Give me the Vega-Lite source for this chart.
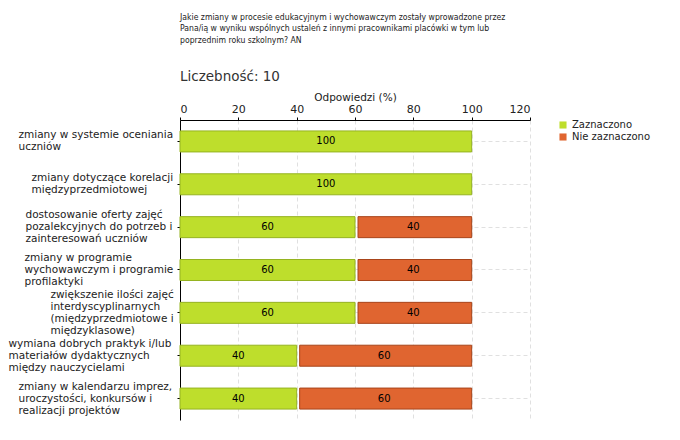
{
  "$schema": "https://vega.github.io/schema/vega-lite/v6.json",
  "width": 350,
  "height": 300,
  "autosize": {"type": "none"},
  "padding": {"left": 180, "top": 120, "right": 150, "bottom": 20},
  "background": "white",
  "config": {
    "font": "DejaVu Sans",
    "view": {"stroke": null}
  },
  "title": {
    "text": ["Jakie zmiany w procesie edukacyjnym i wychowawczym zostały wprowadzone przez", "Pana/ią w wyniku wspólnych ustaleń z innymi pracownikami placówki w tym lub", "poprzednim roku szkolnym? AN"],
    "subtitle": "Liczebność: 10",
    "anchor": "start",
    "frame": "group",
    "font": "DejaVu Sans Condensed",
    "fontSize": 8.6,
    "fontWeight": "normal",
    "color": "#222",
    "lineHeight": 11.5,
    "subtitleFont": "DejaVu Sans",
    "subtitleFontSize": 13.5,
    "subtitleColor": "#333",
    "subtitlePadding": 25,
    "offset": 9
  },
  "data": {
    "values": [
      {"kat": "zmiany w systemie oceniania|uczniów", "odp": "Zaznaczono", "v": 100},
      {"kat": "zmiany w systemie oceniania|uczniów", "odp": "Nie zaznaczono", "v": 0},
      {"kat": "zmiany dotyczące korelacji|międzyprzedmiotowej", "odp": "Zaznaczono", "v": 100},
      {"kat": "zmiany dotyczące korelacji|międzyprzedmiotowej", "odp": "Nie zaznaczono", "v": 0},
      {"kat": "dostosowanie oferty zajęć|pozalekcyjnych do potrzeb i|zainteresowań uczniów", "odp": "Zaznaczono", "v": 60},
      {"kat": "dostosowanie oferty zajęć|pozalekcyjnych do potrzeb i|zainteresowań uczniów", "odp": "Nie zaznaczono", "v": 40},
      {"kat": "zmiany w programie|wychowawczym i programie|profilaktyki", "odp": "Zaznaczono", "v": 60},
      {"kat": "zmiany w programie|wychowawczym i programie|profilaktyki", "odp": "Nie zaznaczono", "v": 40},
      {"kat": "zwiększenie ilości zajęć|interdyscyplinarnych|(międzyprzedmiotowe i|międzyklasowe)", "odp": "Zaznaczono", "v": 60},
      {"kat": "zwiększenie ilości zajęć|interdyscyplinarnych|(międzyprzedmiotowe i|międzyklasowe)", "odp": "Nie zaznaczono", "v": 40},
      {"kat": "wymiana dobrych praktyk i/lub|materiałów dydaktycznych|między nauczycielami", "odp": "Zaznaczono", "v": 40},
      {"kat": "wymiana dobrych praktyk i/lub|materiałów dydaktycznych|między nauczycielami", "odp": "Nie zaznaczono", "v": 60},
      {"kat": "zmiany w kalendarzu imprez,|uroczystości, konkursów i|realizacji projektów", "odp": "Zaznaczono", "v": 40},
      {"kat": "zmiany w kalendarzu imprez,|uroczystości, konkursów i|realizacji projektów", "odp": "Nie zaznaczono", "v": 60}
    ]
  },
  "transform": [
    {"calculate": "datum.odp == 'Zaznaczono' ? 0 : 1", "as": "ord"},
    {"stack": "v", "groupby": ["kat"], "sort": [{"field": "ord", "order": "ascending"}], "as": ["v0", "v1"]},
    {"calculate": "(datum.v0 + datum.v1) / 2", "as": "mid"}
  ],
  "encoding": {
    "y": {
      "field": "kat",
      "type": "nominal",
      "sort": null,
      "scale": {"paddingInner": 0, "paddingOuter": 0},
      "axis": {
        "title": null,
        "labelExpr": "split(datum.label, '|')",
        "labelFontSize": 10.5,
        "labelColor": "#222",
        "labelLineHeight": 12,
        "labelAlign": "left",
        "labelPadding": {
          "condition": [
            {"test": "indexof(datum.value, 'oceniania') >= 0", "value": 159},
            {"test": "indexof(datum.value, 'korelacji') >= 0", "value": 146},
            {"test": "indexof(datum.value, 'dostosowanie') >= 0", "value": 152},
            {"test": "indexof(datum.value, 'wychowawczym') >= 0", "value": 153},
            {"test": "indexof(datum.value, 'zwiększenie') >= 0", "value": 127},
            {"test": "indexof(datum.value, 'wymiana') >= 0", "value": 169},
            {"test": "indexof(datum.value, 'kalendarzu') >= 0", "value": 159}
          ],
          "value": 3
        },
        "labelLimit": 200,
        "labelOffset": {
          "condition": [
            {"test": "length(split(datum.value, '|')) == 4", "value": -18},
            {"test": "length(split(datum.value, '|')) == 3", "value": -12}
          ],
          "value": -6
        },
        "tickSize": 3,
        "tickColor": "#000",
        "domainColor": "#000",
        "grid": true,
        "gridDash": [4, 3],
        "gridColor": "#e0e0e0"
      }
    }
  },
  "layer": [
    {
      "transform": [{"filter": "datum.odp == 'Zaznaczono' && datum.v > 0"}],
      "mark": {"type": "bar", "height": 21, "stroke": "#95b320", "strokeWidth": 1},
      "encoding": {
        "x": {
          "field": "v0",
          "type": "quantitative",
          "scale": {"domain": [0, 120]},
          "axis": {
            "orient": "top",
            "title": "Odpowiedzi (%)",
            "titleFontSize": 10.5,
            "titleFontWeight": "normal",
            "titleColor": "#222",
            "titlePadding": 1,
            "values": [0, 10, 20, 30, 40, 50, 60, 70, 80, 90, 100, 110, 120],
            "labelExpr": "datum.value % 20 == 0 ? datum.label : ''",
            "labelFontSize": 11,
            "labelColor": "#222",
            "labelPadding": 3,
            "tickSize": 3,
            "tickColor": {"condition": {"test": "datum.value % 20 == 0", "value": "#000"}, "value": "#e03030"},
            "domainColor": "#000",
            "grid": true,
            "gridDash": [4, 3],
            "gridColor": {"condition": {"test": "datum.value % 20 == 0 && datum.value > 0", "value": "#e0e0e0"}, "value": "transparent"}
          }
        },
        "x2": {"field": "v1"},
        "color": {
          "field": "odp",
          "type": "nominal",
          "scale": {"domain": ["Zaznaczono", "Nie zaznaczono"], "range": ["#bede2c", "#e06530"]},
          "legend": {
            "title": null,
            "orient": "right",
            "offset": 28,
            "symbolType": "square",
            "symbolSize": 50,
            "symbolStrokeWidth": 0,
            "labelFontSize": 10,
            "labelColor": "#222",
            "rowPadding": 2,
            "padding": 0
          }
        }
      }
    },
    {
      "transform": [{"filter": "datum.odp == 'Nie zaznaczono' && datum.v > 0"}],
      "mark": {"type": "bar", "height": 21, "stroke": "#a8441a", "strokeWidth": 1, "xOffset": 3},
      "encoding": {
        "x": {"field": "v0", "type": "quantitative"},
        "x2": {"field": "v1"},
        "color": {"field": "odp", "type": "nominal"}
      }
    },
    {
      "transform": [{"filter": "datum.v > 0"}],
      "mark": {"type": "text", "fontSize": 10, "color": "#000", "align": "center", "baseline": "middle"},
      "encoding": {
        "x": {"field": "mid", "type": "quantitative"},
        "text": {"field": "v", "type": "quantitative"}
      }
    }
  ]
}
